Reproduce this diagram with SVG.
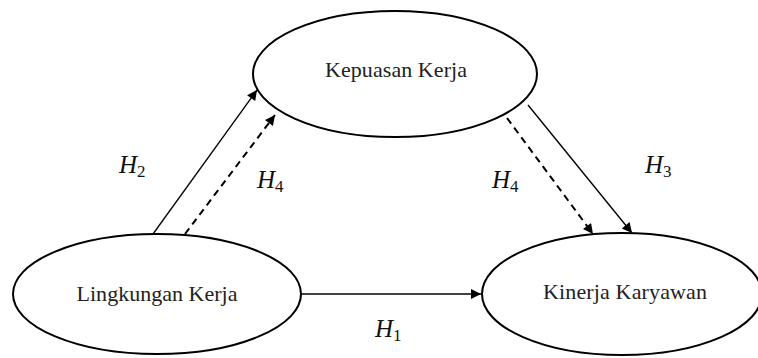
<svg xmlns="http://www.w3.org/2000/svg" width="758" height="358" viewBox="0 0 758 358">
<style>
.node ellipse{fill:#fff;stroke:#000;stroke-width:2}
.lbl{font-family:"Liberation Serif",serif;font-size:22px;fill:#222;text-anchor:middle}
.h{font-family:"Liberation Serif",serif;font-style:italic;font-size:25px;fill:#111}
.h tspan{font-style:normal;font-size:17px}
.ln{stroke:#000;stroke-width:1.3;fill:none}
.dash{stroke-dasharray:7,5;stroke-width:2}
</style>
<defs>
<marker id="ah" viewBox="0 0 10 10" refX="10" refY="5" markerWidth="12" markerHeight="10" markerUnits="userSpaceOnUse" orient="auto">
<path d="M0,0 L10,5 L0,10 z" fill="#000"/>
</marker>
</defs>
<g id="connectors">
<line class="ln" x1="300" y1="294" x2="481" y2="294" marker-end="url(#ah)"/>
<line class="ln" x1="153" y1="234" x2="257" y2="90" marker-end="url(#ah)"/>
<line class="ln dash" x1="185" y1="234" x2="275" y2="115" marker-end="url(#ah)"/>
<line class="ln dash" x1="507" y1="118" x2="593" y2="234" marker-end="url(#ah)"/>
<line class="ln" x1="528" y1="105" x2="632" y2="233" marker-end="url(#ah)"/>
</g>
<g id="kepuasan" class="node">
<ellipse cx="395" cy="74" rx="142" ry="63"/>
<text class="lbl" x="396" y="77" textLength="142">Kepuasan Kerja</text>
</g>
<g id="lingkungan" class="node">
<ellipse cx="157" cy="294" rx="144" ry="60"/>
<text class="lbl" x="157" y="301" textLength="161">Lingkungan Kerja</text>
</g>
<g id="kinerja" class="node">
<ellipse cx="622" cy="294" rx="140" ry="61"/>
<text class="lbl" x="625" y="299" textLength="164">Kinerja Karyawan</text>
</g>
<g id="labels">
<text class="h" x="119" y="173">H<tspan dy="4">2</tspan></text>
<text class="h" x="257" y="188">H<tspan dy="4">4</tspan></text>
<text class="h" x="492" y="188">H<tspan dy="4">4</tspan></text>
<text class="h" x="645" y="173">H<tspan dy="4">3</tspan></text>
<text class="h" x="375" y="337">H<tspan dy="4">1</tspan></text>
</g>
</svg>
